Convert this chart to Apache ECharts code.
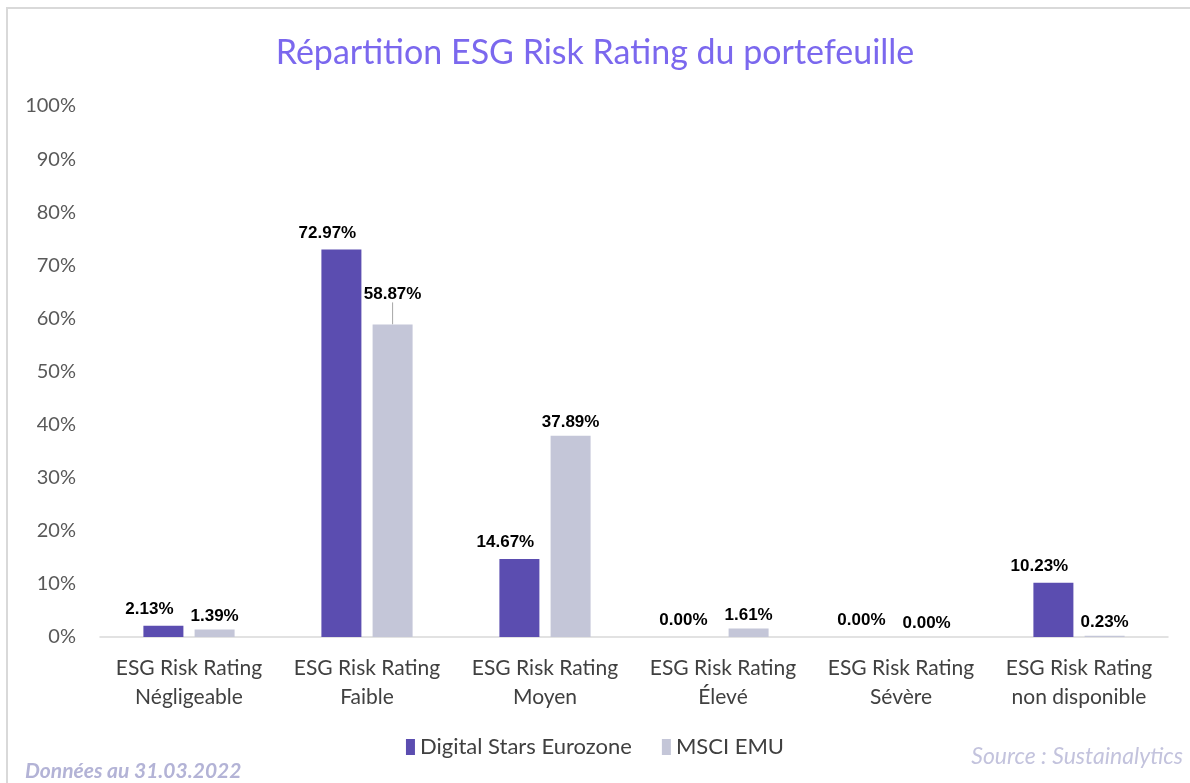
<!DOCTYPE html>
<html>
<head>
<meta charset="utf-8">
<script src="https://cdn.jsdelivr.net/npm/echarts@6/dist/echarts.min.js"></script>
<style>
  html, body { margin: 0; padding: 0; background: #fff; }
  #chart { width: 1190px; height: 783px; }
</style>
</head>
<body>
<div id="chart"></div>
<script>
// data
var categories = [
    'ESG Risk Rating\nNégligeable',
    'ESG Risk Rating\nFaible',
    'ESG Risk Rating\nMoyen',
    'ESG Risk Rating\nÉlevé',
    'ESG Risk Rating\nSévère',
    'ESG Risk Rating\nnon disponible'
];
var fundValues = [2.13, 72.97, 14.67, 0.00, 0.00, 10.23];
var indexValues = [1.39, 58.87, 37.89, 1.61, 0.00, 0.23];
var seriesNames = ['Digital Stars Eurozone', 'MSCI EMU'];

var chartDom = document.getElementById('chart');
var myChart = echarts.init(chartDom);
var option;

var labelStyle = {
    show: true,
    position: 'top',
    fontFamily: 'Liberation Sans, Arial',
    fontWeight: 'bold',
    fontSize: 17,
    color: '#000',
    formatter: function (p) { return p.value.toFixed(2) + '%'; }
};

// only the Faible label of MSCI EMU gets a leader line in the original
var indexData = indexValues.map(function (v, i) {
    if (i === 1) {
        return { value: v, labelLine: { show: true } };
    }
    return v;
});

option = {
    backgroundColor: '#fff',
    animation: false,
    title: {
        text: 'Répartition ESG Risk Rating du portefeuille',
        left: 'center',
        top: 31,
        textStyle: {
            fontFamily: 'Lato',
            fontWeight: 'normal',
            fontSize: 34,
            color: '#7b68ee'
        }
    },
    legend: {
        data: seriesNames,
        bottom: 20,
        left: 'center',
        icon: 'rect',
        itemWidth: 9,
        itemHeight: 16,
        itemGap: 30,
        textStyle: { fontFamily: 'Lato', fontSize: 22, color: '#404040' }
    },
    grid: {
        left: 100,
        right: 22,
        top: 106,
        bottom: 146
    },
    xAxis: {
        type: 'category',
        data: categories,
        axisLine: { lineStyle: { color: '#d9d9d9', width: 1.5 } },
        axisTick: { show: false },
        axisLabel: {
            interval: 0,
            margin: 17,
            lineHeight: 29,
            fontFamily: 'Lato',
            fontSize: 21,
            color: '#404040'
        }
    },
    yAxis: {
        type: 'value',
        min: 0,
        max: 100,
        interval: 10,
        splitLine: { show: false },
        axisLine: { show: false },
        axisLabel: {
            margin: 24,
            fontFamily: 'Lato',
            fontSize: 20,
            color: '#595959',
            formatter: '{value}%'
        }
    },
    graphic: [
        {
            type: 'rect',
            silent: true,
            shape: { x: 7, y: 8, width: 1300, height: 900 },
            style: { fill: 'none', stroke: '#d9d9d9', lineWidth: 2 }
        },
        {
            type: 'text',
            left: 25,
            top: 761,
            style: {
                text: 'Données au 31.03.2022',
                fontFamily: 'Lato',
                fontStyle: 'italic',
                fontWeight: 'bold',
                fontSize: 21,
                fill: '#b3b3d6'
            }
        },
        {
            type: 'text',
            right: 7,
            top: 745,
            style: {
                text: 'Source : Sustainalytics',
                fontFamily: 'Lato',
                fontStyle: 'italic',
                fontSize: 23,
                fill: '#c3c3dd'
            }
        }
    ],
    series: [
        {
            name: seriesNames[0],
            type: 'bar',
            data: fundValues,
            barWidth: 40,
            barGap: '28%',
            itemStyle: { color: '#5b4db0' },
            label: Object.assign({}, labelStyle, { offset: [-14, -3] })
        },
        {
            name: seriesNames[1],
            type: 'bar',
            data: indexData,
            barWidth: 40,
            itemStyle: { color: '#c4c6d8' },
            label: Object.assign({}, labelStyle, { offset: [-3, -3] }),
            labelLine: { show: false, lineStyle: { color: '#a6a6a6', width: 1 } },
            labelLayout: function (p) {
                if (p.dataIndex === 1) {
                    return { dy: -17 };
                }
                return {};
            }
        }
    ]
};

myChart.setOption(option);
</script>
</body>
</html>
